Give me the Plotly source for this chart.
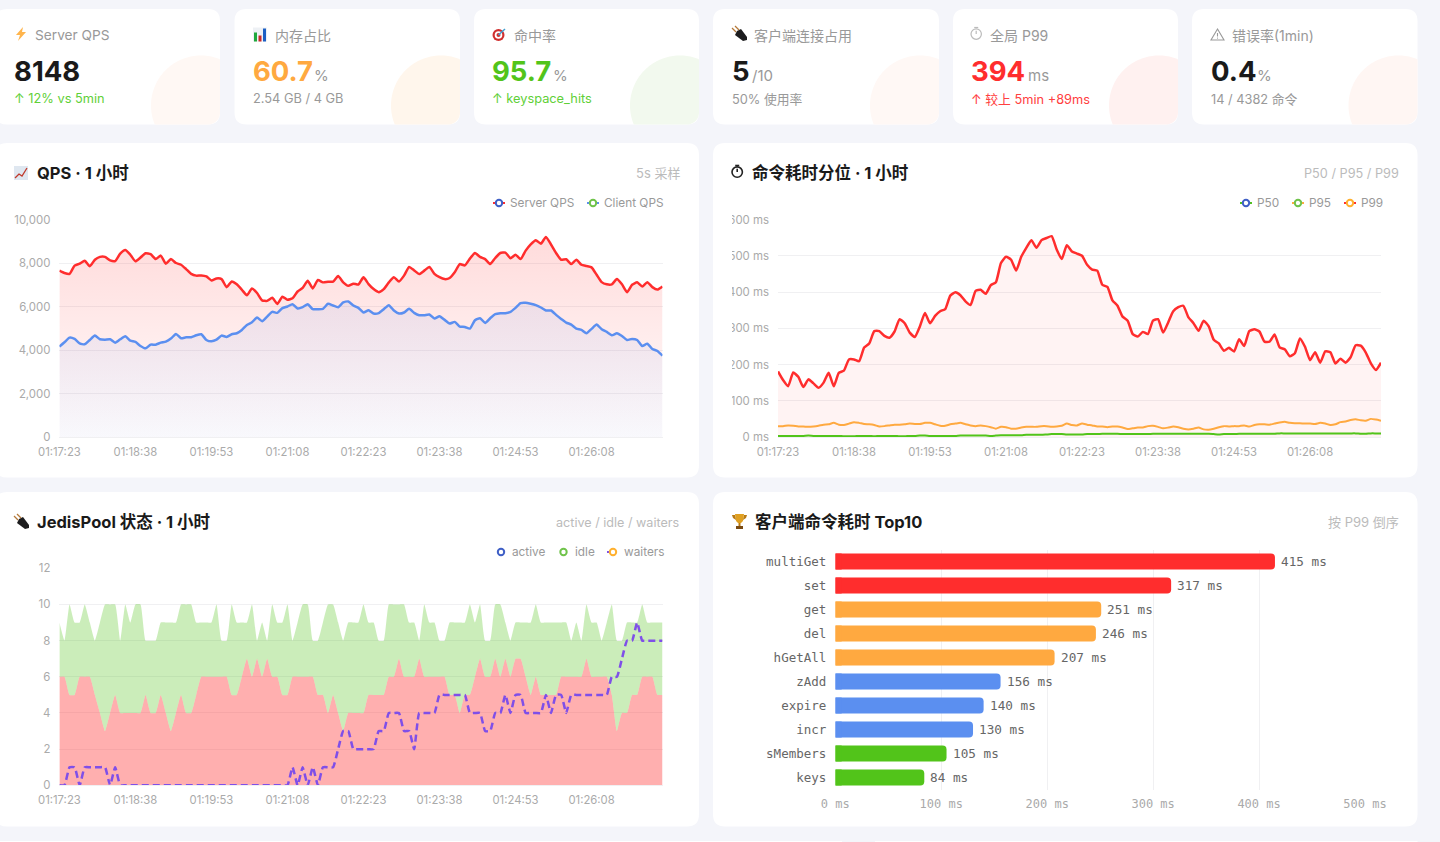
import numpy as np
import pandas as pd
import plotly.graph_objects as go

W, H = 1440, 842

# Time axis, 5s samples
times = pd.date_range("2024-01-01 01:17:23", periods=120, freq="5s").strftime("%H:%M:%S").tolist()
tick_labels = ["01:17:23", "01:18:38", "01:19:53", "01:21:08", "01:22:23", "01:23:38", "01:24:53", "01:26:08"]

server_qps = [
    7650, 7540, 7500, 7880, 7970, 8100, 7850, 8150, 8280, 8280,
    8120, 8090, 8430, 8600, 8380, 8080, 8250, 8450, 8410, 8180,
    8340, 7970, 8180, 8000, 7920, 7720, 7500, 7420, 7430, 7380,
    7200, 7290, 7260, 6890, 7150, 7020, 6770, 6520, 6830, 6620,
    6280, 6260, 6400, 6120, 6450, 6310, 6380, 6690, 6860, 7180,
    6830, 7220, 7110, 7140, 7140, 7400, 7110, 6950, 7050, 7010,
    7340, 7030, 6800, 6660, 6800, 7110, 7350, 7150, 7420, 7820,
    7660, 7490, 7650, 7820, 7500, 7350, 7260, 7310, 7570, 7950,
    7890, 8200, 8460, 8280, 8180, 7950, 8230, 8460, 8480, 8220,
    8380, 8180, 8570, 8860, 9050, 8890, 9200, 8850, 8460, 8150,
    8170, 7950, 8150, 7920, 7860, 7800, 7460, 7120, 7020, 7020,
    7260, 7020, 6660, 7000, 7110, 6920, 7120, 6890, 6780, 6920,
]
client_qps = [
    4154, 4354, 4569, 4508, 4308, 4262, 4462, 4662, 4492, 4477,
    4492, 4338, 4492, 4631, 4431, 4369, 4185, 4077, 4246, 4246,
    4338, 4385, 4523, 4738, 4538, 4585, 4585, 4677, 4723, 4462,
    4400, 4477, 4662, 4600, 4723, 4769, 4923, 5154, 5277, 5492,
    5323, 5538, 5754, 5708, 5923, 6000, 6108, 5908, 5969, 6108,
    5877, 5877, 5892, 6123, 6046, 5969, 6185, 6231, 6046, 5938,
    5723, 5831, 5677, 5692, 5877, 6062, 5815, 5677, 5723, 5892,
    5708, 5600, 5600, 5631, 5446, 5554, 5385, 5215, 5292, 5077,
    5062, 4985, 5369, 5462, 5246, 5462, 5646, 5692, 5692, 5754,
    5938, 6154, 6169, 6123, 6062, 5954, 5815, 5815, 5615, 5431,
    5262, 5169, 4985, 4923, 4769, 4969, 5169, 4954, 4831, 4677,
    4769, 4646, 4462, 4508, 4462, 4185, 4292, 4046, 3954, 3738,
]

p99 = [
    181, 157, 140, 178, 166, 138, 159, 148, 136, 150,
    177, 140, 177, 183, 214, 214, 209, 247, 258, 292,
    292, 279, 274, 291, 325, 314, 288, 276, 305, 342,
    314, 334, 347, 353, 390, 399, 391, 374, 364, 403,
    406, 395, 419, 427, 480, 497, 489, 459, 497, 522,
    543, 522, 543, 549, 554, 517, 491, 529, 512, 506,
    500, 475, 462, 459, 420, 414, 377, 362, 332, 321,
    284, 277, 290, 284, 321, 325, 288, 316, 347, 358,
    362, 330, 314, 293, 321, 305, 268, 258, 238, 246,
    236, 270, 251, 292, 297, 291, 263, 263, 283, 247,
    242, 223, 231, 272, 249, 212, 234, 205, 236, 234,
    203, 216, 205, 220, 253, 252, 233, 203, 185, 205,
]
p95 = [
    30, 30, 32, 31, 29, 29, 28, 29, 31, 34,
    35, 39, 34, 33, 37, 41, 39, 36, 35, 33,
    29, 30, 32, 34, 34, 35, 37, 36, 36, 39,
    39, 35, 31, 31, 35, 37, 39, 35, 32, 30,
    32, 30, 27, 23, 28, 27, 23, 23, 26, 28,
    28, 28, 30, 30, 28, 29, 31, 37, 33, 32,
    37, 34, 32, 29, 29, 27, 29, 29, 26, 22,
    24, 26, 26, 30, 31, 28, 24, 26, 29, 27,
    23, 21, 23, 26, 21, 20, 23, 27, 30, 29,
    30, 30, 32, 29, 33, 35, 35, 34, 37, 40,
    42, 39, 38, 38, 37, 37, 36, 39, 37, 33,
    35, 41, 43, 47, 49, 46, 45, 50, 48, 45,
]
p50 = [
    3, 3, 3, 3, 3, 3, 4, 3, 3, 3,
    3, 3, 3, 2, 2, 2, 3, 3, 3, 2,
    3, 3, 3, 3, 2, 2, 3, 3, 4, 4,
    3, 3, 3, 3, 3, 3, 4, 4, 4, 4,
    4, 4, 3, 4, 5, 5, 5, 5, 5, 6,
    6, 6, 6, 7, 8, 8, 8, 7, 7, 7,
    7, 8, 8, 8, 9, 9, 9, 9, 8, 8,
    8, 8, 8, 8, 9, 9, 9, 9, 9, 9,
    9, 9, 9, 9, 9, 9, 8, 7, 8, 8,
    8, 9, 9, 9, 9, 9, 9, 9, 9, 10,
    10, 10, 10, 10, 10, 10, 10, 10, 10, 10,
    10, 10, 10, 10, 10, 9, 9, 10, 10, 10,
]

active = [
    6, 6, 5, 5, 6, 6, 6, 5, 4, 3,
    4, 5, 4, 4, 4, 4, 4, 5, 4, 4,
    5, 4, 3, 4, 5, 4, 4, 5, 6, 6,
    6, 6, 6, 6, 5, 5, 6, 7, 6, 7,
    6, 7, 6, 6, 5, 5, 6, 6, 6, 6,
    6, 5, 5, 4, 5, 4, 3, 4,
    4, 4, 4, 5, 5, 5, 5, 6, 6, 7,
    6, 6, 6, 7, 6, 6, 6, 6, 6, 5,
    5, 4, 5, 5, 6, 7, 6, 6, 7, 6,
    7, 6, 7, 7, 6, 5, 6, 5, 5, 5,
    5, 6, 6, 6, 6, 6, 7, 6, 6, 6,
    6, 5, 3, 4, 4, 5, 5, 6, 6, 6,
    5, 5,
]
idle = [
    3, 2, 5, 4, 3, 4, 3, 3, 5, 7,
    6, 5, 4, 6, 5, 6, 6, 3, 4, 4,
    4, 5, 6, 5, 5, 6, 6, 4, 3, 3,
    3, 4, 2, 2, 5, 4, 3, 2, 4, 1,
    3, 1, 4, 3, 4, 5, 2, 3, 4, 4,
    2, 3, 4, 6, 5, 5, 5, 5,
    5, 5, 6, 4, 4, 3, 3, 4, 4, 3,
    4, 3, 3, 1, 4, 3, 3, 2, 2, 4,
    4, 5, 4, 5, 3, 3, 2, 2, 3, 4,
    2, 2, 2, 2, 3, 4, 4, 4, 4, 4,
    4, 3, 3, 2, 3, 2, 3, 3, 3, 2,
    3, 5, 5, 4, 5, 4, 4, 4, 3, 3,
    4, 4,
]
waiters = [
    0, 0, 1, 1, 0, 1, 1, 1, 1, 1,
    0, 1, 0, 0, 0, 0, 0, 0, 0, 0,
    0, 0, 0, 0, 0, 0, 0, 0, 0, 0,
    0, 0, 0, 0, 0, 0, 0, 0, 0, 0,
    0, 0, 0, 0, 0, 0, 1, 0, 1, 0,
    1, 0, 1, 1, 1, 2, 3, 3,
    2, 2, 2, 2, 2, 3, 3, 4, 4, 4,
    3, 3, 2, 4, 4, 4, 4, 5, 5, 5,
    5, 5, 5, 4, 4, 4, 3, 3, 4, 4,
    5, 4, 5, 5, 4, 4, 4, 4, 5, 4,
    5, 5, 4, 5, 5, 5, 5, 5, 5, 5,
    5, 6, 6, 7, 8, 8, 9, 8, 8, 8,
    8, 8,
]

commands = ["multiGet", "set", "get", "del", "hGetAll", "zAdd", "expire", "incr", "sMembers", "keys"]
command_p99 = [415, 317, 251, 246, 207, 156, 140, 130, 105, 84]

RED = "#ff2d2d"
ORANGE = "#ffa940"
BLUE = "#5b8ff0"
GREEN = "#52c41a"
PURPLE = "#7f4fe8"
FONT = "Inter, 'Noto Sans CJK SC', sans-serif"
MONO = "'DejaVu Sans Mono', monospace"
GRID = "#f0f0f2"


def px(x):
    return x / W


def py(y):
    return 1 - y / H


def path_of(points, close=True):
    s = "M" + " L".join(f"{px(x):.5f},{py(y):.5f}" for x, y in points)
    return s + (" Z" if close else "")


def rounded_rect(x0, y0, x1, y1, r=12):
    a = lambda x, y: f"{px(x):.5f},{py(y):.5f}"
    return (f"M{a(x0 + r, y0)} L{a(x1 - r, y0)} Q{a(x1, y0)} {a(x1, y0 + r)} L{a(x1, y1 - r)} "
            f"Q{a(x1, y1)} {a(x1 - r, y1)} L{a(x0 + r, y1)} Q{a(x0, y1)} {a(x0, y1 - r)} "
            f"L{a(x0, y0 + r)} Q{a(x0, y0)} {a(x0 + r, y0)} Z")


shapes = []
annotations = []


def add_path(path, fill, line=None, width=0, layer="below"):
    shapes.append(dict(type="path", path=path, xref="paper", yref="paper", fillcolor=fill,
                       line=dict(color=line or "rgba(0,0,0,0)", width=width), layer=layer))


def add_circle(cx, cy, r, fill, line=None, width=0, layer="below"):
    shapes.append(dict(type="circle", xref="paper", yref="paper", x0=px(cx - r), x1=px(cx + r),
                       y0=py(cy + r), y1=py(cy - r), fillcolor=fill,
                       line=dict(color=line or "rgba(0,0,0,0)", width=width), layer=layer))


def add_seg(x0, y0, x1, y1, color, width=2, dash="solid", layer="below"):
    shapes.append(dict(type="line", xref="paper", yref="paper", x0=px(x0), x1=px(x1), y0=py(y0), y1=py(y1),
                       line=dict(color=color, width=width, dash=dash), layer=layer))


def add_text(x, y, text, size, color, weight=None, anchor="left", family=FONT):
    if weight:
        text = f"<b>{text}</b>"
    annotations.append(dict(x=px(x), y=py(y), xref="paper", yref="paper", text=text, showarrow=False,
                            xanchor=anchor, yanchor="middle", borderpad=0, borderwidth=0,
                            font=dict(size=size, color=color, family=family)))


def card_circle(right, bottom, color, r=50, inset=19, radius=12):
    # decorative circle clipped by the card's rounded corner
    cx, cy = right - inset, bottom - inset
    pts = []
    for t in np.linspace(0, 2 * np.pi, 181)[:-1]:
        x = min(cx + r * np.cos(t), right)
        y = min(cy + r * np.sin(t), bottom)
        ox, oy = right - radius, bottom - radius
        if x > ox and y > oy and np.hypot(x - ox, y - oy) > radius:
            d = np.hypot(x - ox, y - oy)
            x, y = ox + (x - ox) * radius / d, oy + (y - oy) * radius / d
        pts.append((x, y))
    add_path(path_of(pts), color)


# Small icons standing in for the emoji of the original page
def icon_bolt(x, y):
    add_path(path_of([(x + 8, y), (x + 1, y + 8), (x + 5, y + 8), (x + 3, y + 14), (x + 11, y + 5), (x + 7, y + 5)]), "#ffb54d")


def icon_bars(x, y):
    add_path(path_of([(x, y), (x + 14, y), (x + 14, y + 14), (x, y + 14)]), "#eef1f5")
    add_path(path_of([(x + 1, y + 5), (x + 4, y + 5), (x + 4, y + 14), (x + 1, y + 14)]), "#1fa83c")
    add_path(path_of([(x + 5.5, y + 8), (x + 8.5, y + 8), (x + 8.5, y + 14), (x + 5.5, y + 14)]), "#c92a2a")
    add_path(path_of([(x + 10, y + 1), (x + 13, y + 1), (x + 13, y + 14), (x + 10, y + 14)]), "#1c5fc4")


def icon_target(x, y):
    add_circle(x + 6.5, y + 8, 6, "#d02f2f")
    add_circle(x + 6.5, y + 8, 3.8, "#ffffff")
    add_circle(x + 6.5, y + 8, 2, "#d02f2f")
    add_seg(x + 6.5, y + 8, x + 13, y + 2, "#3f9fd0", 1.5)


def icon_plug(x, y):
    add_path(path_of([(x + 5, y + 4), (x + 9, y + 2), (x + 15, y + 10), (x + 15, y + 13), (x + 11, y + 14), (x + 3, y + 8)]), "#1c1c1e")
    add_seg(x + 4, y + 5, x, y + 1, "#b5793a", 1.2)
    add_seg(x + 7, y + 3, x + 3, y - 1, "#b5793a", 1.2)


def icon_watch(x, y, color, size=5.2, width=1.2):
    add_circle(x + size, y + size + 1.4, size, "rgba(0,0,0,0)", color, width)
    add_seg(x + size - 2, y, x + size + 2, y, color, width)
    add_seg(x + size, y + size + 1.4, x + size, y + 3.2, color, width)


def icon_warning(x, y):
    add_path(path_of([(x + 6.5, y), (x + 13, y + 11), (x, y + 11)]), "rgba(0,0,0,0)", "#999999", 1.1)
    add_seg(x + 6.5, y + 4, x + 6.5, y + 7.5, "#999999", 1.1)
    add_seg(x + 6.5, y + 8.6, x + 6.5, y + 9.6, "#999999", 1.1)


def icon_chart(x, y):
    add_path(path_of([(x, y), (x + 14, y), (x + 14, y + 14), (x, y + 14)]), "#dfe7f0")
    add_path(path_of([(x + 1, y + 12), (x + 5, y + 8), (x + 8, y + 10), (x + 13, y + 2)], close=False), "rgba(0,0,0,0)", "#c0392b", 1.3)


def icon_trophy(x, y):
    add_path(path_of([(x + 3, y), (x + 12, y), (x + 11, y + 7), (x + 9, y + 9), (x + 6, y + 9), (x + 4, y + 7)]), "#e0a021")
    add_path(path_of([(x, y + 1), (x + 3, y + 1), (x + 4, y + 6), (x + 1, y + 4)]), "#b97a12")
    add_path(path_of([(x + 15, y + 1), (x + 12, y + 1), (x + 11, y + 6), (x + 14, y + 4)]), "#b97a12")
    add_path(path_of([(x + 6.5, y + 9), (x + 8.5, y + 9), (x + 8.5, y + 12), (x + 6.5, y + 12)]), "#b97a12")
    add_path(path_of([(x + 4, y + 12), (x + 11, y + 12), (x + 11, y + 15), (x + 4, y + 15)]), "#7a4a12")


def legend_item(cx, cy, label, dot, stub=None, dashed=False):
    if stub:
        if dashed:
            add_seg(cx - 6, cy, cx - 3, cy, stub, 2, layer="above")
        else:
            add_seg(cx - 6, cy, cx + 6, cy, stub, 2, layer="above")
    add_circle(cx, cy, 3.2, "#ffffff", dot, 2, layer="above")
    add_text(cx + 11, cy, label, 11.8, "#999999")


# KPI cards
kpi_cards = [
    (-5, 220, "#fff8f4"), (234.5, 460, "#fff6ec"), (474, 699, "#f2f9ee"),
    (713, 939, "#fff8f5"), (953, 1178, "#fff1f0"), (1192, 1417.5, "#fff6f3"),
]
for left, right, tint in kpi_cards:
    add_path(rounded_rect(left, 9, right, 124.5), "#ffffff")
    card_circle(right, 124.5, tint)

# Chart cards
for left, right, top, bottom in [(-5, 699, 143, 477.5), (713, 1417.5, 143, 477.5),
                                 (-5, 699, 492, 826.5), (713, 1417.5, 492, 826.5)]:
    add_path(rounded_rect(left, top, right, bottom), "#ffffff")
# top edge of the next row of cards, cut by the window
add_path(path_of([(-5, 841), (842, 841), (842, 843), (-5, 843)]), "#ffffff")
add_path(path_of([(875, 841), (1417.5, 841), (1417.5, 843), (875, 843)]), "#ffffff")

icon_bolt(15, 27)
icon_bars(253, 27.5)
icon_target(492, 27)
icon_plug(732, 27)
icon_watch(971, 27.5, "#bbbbbb")
icon_warning(1211, 29)
icon_chart(14, 166)
icon_watch(732, 165.5, "#222222", 5.2, 1.6)
icon_plug(14, 515)
icon_trophy(732, 514)

LABEL = "#999999"
INK = "#1a1a1a"
SOFT_GREEN = "#5fd038"
SOFT_RED = "#ff4040"
VALUE = 27.5
UNIT = 15
SUB = 12.8

add_text(35, 35, "Server QPS", 13.7, LABEL)
add_text(14, 71, "8148", VALUE, INK, True)
add_text(14, 98.5, "↑ 12% vs 5min", SUB, SOFT_GREEN)

add_text(275, 35, "内存占比", 14, LABEL)
add_text(253, 71, "60.7", VALUE, ORANGE, True)
add_text(314, 75.5, "%", UNIT, LABEL)
add_text(253, 98.5, "2.54 GB / 4 GB", SUB, LABEL)

add_text(514, 35, "命中率", 14, LABEL)
add_text(492, 71, "95.7", VALUE, GREEN, True)
add_text(553, 75.5, "%", UNIT, LABEL)
add_text(492, 98.5, "↑ keyspace_hits", SUB, SOFT_GREEN)

add_text(754, 35, "客户端连接占用", 14, LABEL)
add_text(732, 71, "5", VALUE, INK, True)
add_text(752, 75.5, "/10", UNIT, LABEL)
add_text(732, 99.5, "50% 使用率", SUB, LABEL)

add_text(990, 35, "全局 P99", 14, LABEL)
add_text(971, 71, "394", VALUE, RED, True)
add_text(1028, 75.5, "ms", UNIT, LABEL)
add_text(971, 100, "↑ 较上 5min +89ms", SUB, SOFT_RED)

add_text(1232, 35, "错误率(1min)", 14, LABEL)
add_text(1211, 71, "0.4", VALUE, INK, True)
add_text(1257, 75.5, "%", UNIT, LABEL)
add_text(1211, 99, "14 / 4382 命令", SUB, LABEL)

# Chart headers
add_text(36.5, 173, "QPS · 1 小时", 16.5, INK, True)
add_text(680, 173, "5s 采样", 13, "#bbbbbb", anchor="right")
add_text(751.5, 173, "命令耗时分位 · 1 小时", 16.5, INK, True)
add_text(1399, 173, "P50 / P95 / P99", 12.7, "#bbbbbb", anchor="right")
add_text(36.5, 522, "JedisPool 状态 · 1 小时", 16.5, INK, True)
add_text(680, 522, "active / idle / waiters", 12.6, "#bbbbbb", anchor="right")
add_text(755, 522, "客户端命令耗时 Top10", 16.5, INK, True)
add_text(1399, 522, "按 P99 倒序", 13, "#bbbbbb", anchor="right")

# Legends are drawn by hand: their dots and line stubs use different colours
legend_item(499, 203, "Server QPS", "#3f5fc6", RED)
legend_item(593, 203, "Client QPS", "#6fc34a", BLUE)
legend_item(1246, 203, "P50", "#3f5fc6", GREEN)
legend_item(1298, 203, "P95", "#6fc34a", ORANGE)
legend_item(1350, 203, "P99", "#ffb02e", RED)
legend_item(501, 552, "active", "#3f5fc6")
legend_item(563.5, 552, "idle", "#6fc34a")
legend_item(613, 552, "waiters", "#ffb02e", PURPLE, dashed=True)

fig = go.Figure()

# QPS
fig.add_trace(go.Scatter(x=times, y=server_qps, xaxis="x", yaxis="y", mode="lines", name="Server QPS",
                         line=dict(color=RED, width=2.5, shape="spline", smoothing=0.5), fill="tozeroy",
                         fillgradient=dict(type="vertical", start=0, stop=9200,
                                           colorscale=[[0, "rgba(255,45,45,0.01)"], [1, "rgba(255,45,45,0.17)"]])))
fig.add_trace(go.Scatter(x=times, y=client_qps, xaxis="x", yaxis="y", mode="lines", name="Client QPS",
                         line=dict(color=BLUE, width=2.5, shape="spline", smoothing=0.5), fill="tozeroy",
                         fillgradient=dict(type="vertical", start=0, stop=6231,
                                           colorscale=[[0, "rgba(91,143,240,0.04)"], [1, "rgba(91,143,240,0.10)"]])))

# Latency percentiles
fig.add_trace(go.Scatter(x=times, y=p99, xaxis="x2", yaxis="y2", mode="lines", name="P99",
                         line=dict(color=RED, width=2.5, shape="spline", smoothing=0.5), fill="tozeroy",
                         fillcolor="rgba(255,45,45,0.06)"))
fig.add_trace(go.Scatter(x=times, y=p95, xaxis="x2", yaxis="y2", mode="lines", name="P95",
                         line=dict(color=ORANGE, width=2, shape="spline", smoothing=0.5)))
fig.add_trace(go.Scatter(x=times, y=p50, xaxis="x2", yaxis="y2", mode="lines", name="P50",
                         line=dict(color=GREEN, width=2, shape="spline", smoothing=0.5)))

# JedisPool
fig.add_trace(go.Scatter(x=times, y=active, xaxis="x3", yaxis="y3", mode="lines", name="active", stackgroup="pool",
                         line=dict(color="rgba(0,0,0,0)", width=0, shape="spline", smoothing=0.4),
                         fillcolor="rgba(255,45,45,0.38)"))
fig.add_trace(go.Scatter(x=times, y=idle, xaxis="x3", yaxis="y3", mode="lines", name="idle", stackgroup="pool",
                         line=dict(color="rgba(0,0,0,0)", width=0, shape="spline", smoothing=0.4),
                         fillcolor="rgba(82,196,26,0.30)"))
fig.add_trace(go.Scatter(x=times, y=waiters, xaxis="x3", yaxis="y3", mode="lines", name="waiters",
                         line=dict(color=PURPLE, width=2.5, dash="7px,4px", shape="spline", smoothing=0.4)))


def bar_color(v):
    if v >= 300:
        return RED
    if v >= 200:
        return ORANGE
    if v >= 110:
        return BLUE
    return GREEN


colors = [bar_color(v) for v in command_p99]

# Top10 bars; the short second trace squares off the rounded left ends
fig.add_trace(go.Bar(x=command_p99, y=commands, xaxis="x4", yaxis="y4", orientation="h", name="P99",
                     marker=dict(color=colors, cornerradius=4, line=dict(width=0))))
fig.add_trace(go.Bar(x=[6] * len(commands), y=commands, xaxis="x4", yaxis="y4", orientation="h", hoverinfo="skip",
                     marker=dict(color=colors, line=dict(width=0)), showlegend=False))
for name, v in zip(commands, command_p99):
    annotations.append(dict(x=v, y=name, xref="x4", yref="y4", text=f"{v} ms", showarrow=False, xanchor="left",
                            yanchor="middle", xshift=5, borderpad=0,
                            font=dict(family=MONO, size=12.7, color="#666666")))

time_axis = dict(type="category", categoryorder="array", categoryarray=times, range=[0, 119], tickmode="array",
                 tickvals=tick_labels, ticktext=tick_labels, showgrid=False, zeroline=False, showline=True,
                 linecolor=GRID, linewidth=1, ticks="", ticklabelstandoff=4,
                 tickfont=dict(family=FONT, size=11.3, color="#aaaaaa"))
value_axis = dict(showgrid=True, gridcolor=GRID, gridwidth=1, zeroline=False, showline=False, ticks="",
                  ticklabelstandoff=8, tickfont=dict(family=FONT, size=11.4, color="#aaaaaa"))
left_x = [px(59.4), px(662.5)]
right_x = [px(778), px(1381)]
top_y = [py(437), py(219.5)]
low_y = [py(785.3), py(568.3)]

fig.update_layout(
    width=W,
    height=H,
    margin=dict(l=0, r=0, t=0, b=0, autoexpand=False),
    paper_bgcolor="#f4f5fa",
    plot_bgcolor="rgba(0,0,0,0)",
    showlegend=False,
    barmode="overlay",
    bargap=1 / 3,
    font=dict(family=FONT),
    shapes=shapes,
    annotations=annotations,
    xaxis=dict(time_axis, domain=left_x, anchor="y"),
    yaxis=dict(value_axis, domain=top_y, anchor="x", range=[0, 10000], tickmode="array",
               tickvals=[0, 2000, 4000, 6000, 8000, 10000], ticktext=["0", "2,000", "4,000", "6,000", "8,000", "10,000"]),
    xaxis2=dict(time_axis, domain=right_x, anchor="y2"),
    yaxis2=dict(value_axis, domain=top_y, anchor="x2", range=[0, 600], tickmode="array",
                tickvals=[0, 100, 200, 300, 400, 500, 600],
                ticktext=["0 ms", "100 ms", "200 ms", "300 ms", "400 ms", "500 ms", "600 ms"]),
    xaxis3=dict(time_axis, domain=left_x, anchor="y3"),
    yaxis3=dict(value_axis, domain=low_y, anchor="x3", range=[0, 12], tickmode="array",
                tickvals=[0, 2, 4, 6, 8, 10, 12]),
    xaxis4=dict(domain=[px(835.3), px(1365)], anchor="y4", range=[0, 500], tickmode="array",
                tickvals=[0, 100, 200, 300, 400, 500], ticktext=["0 ms", "100 ms", "200 ms", "300 ms", "400 ms", "500 ms"],
                showgrid=True, gridcolor=GRID, zeroline=False, ticks="", ticklabelstandoff=5,
                tickfont=dict(family=MONO, size=12, color="#aaaaaa")),
    yaxis4=dict(domain=[py(789.5), py(549.5)], anchor="x4", autorange="reversed", showgrid=False, zeroline=False,
                ticks="", ticklabelstandoff=8, tickfont=dict(family=MONO, size=12.5, color="#666666")),
)

# The original's first digit of the long latency labels is cut by the canvas edge
fig.add_shape(type="rect", xref="paper", yref="paper", x0=px(725), x1=px(732), y0=py(437), y1=py(210),
              fillcolor="#ffffff", line=dict(width=0), layer="above")

fig.write_html("out.html", config={"displayModeBar": False},
               post_script="document.body.style.margin='0';document.documentElement.style.overflow='hidden';")
